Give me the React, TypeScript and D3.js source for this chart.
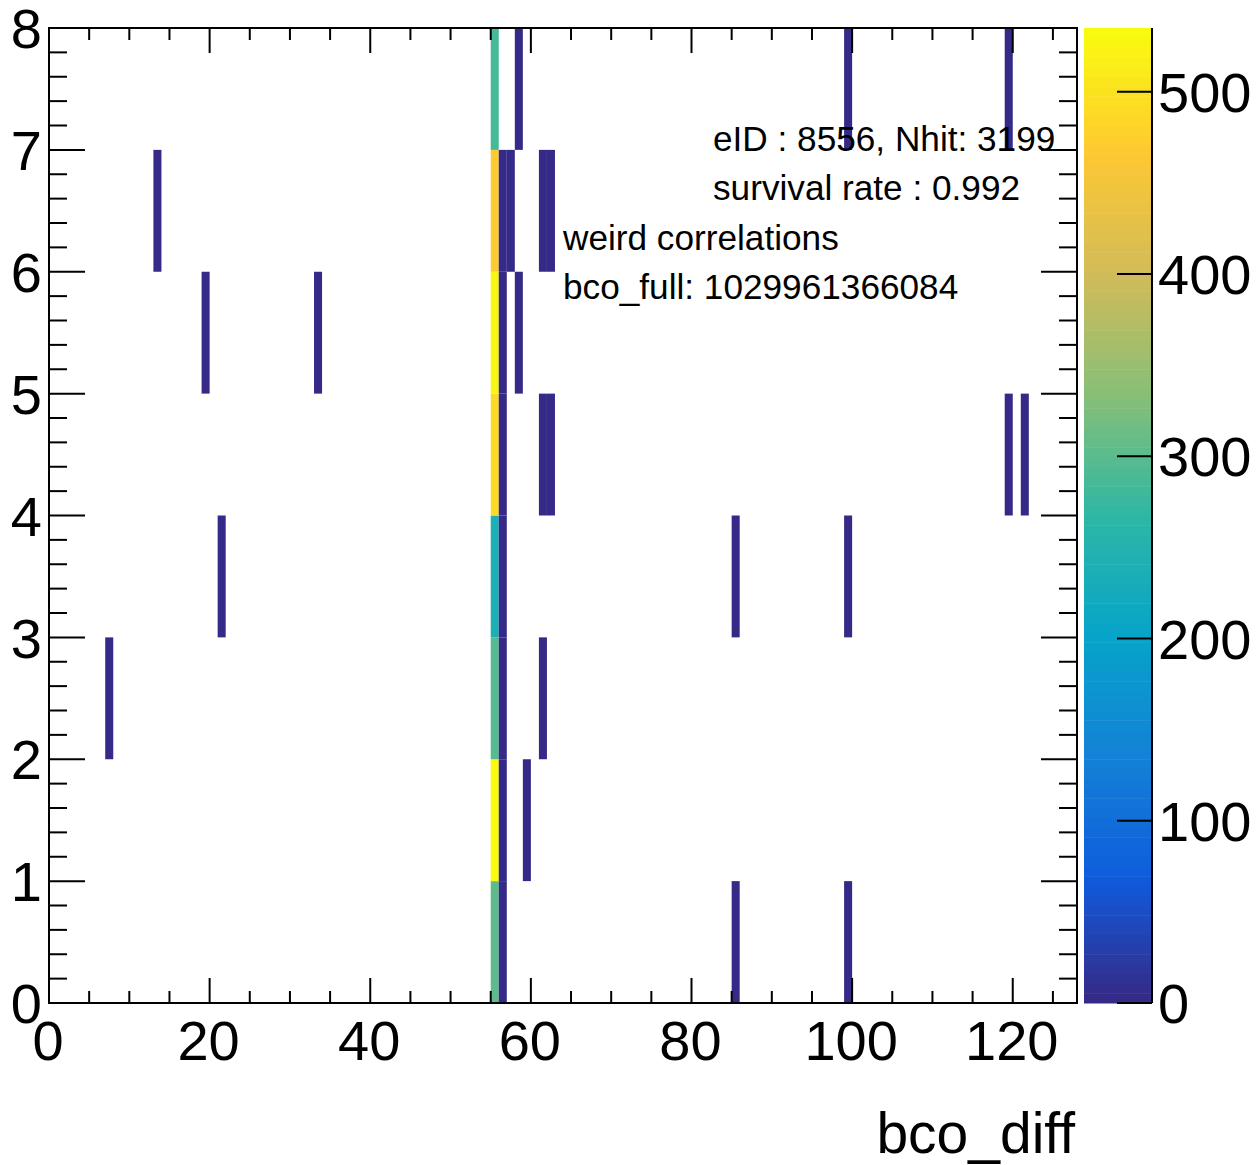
import React from "react";
import * as d3 from "d3";

// bin positions (lower edges) and contents of the TH2
const binX = [
  55, 55, 55, 55, 55, 55, 55, 55,
  56, 56, 56, 56, 56, 56, 56,
  57, 58, 58, 59, 61, 61, 61, 62, 62,
  7, 13, 19, 21, 33, 85, 85, 99, 99, 99, 119, 119, 121,
];
const binY = [
  0, 1, 2, 3, 4, 5, 6, 7,
  0, 1, 2, 3, 4, 5, 6,
  6, 5, 7, 1, 2, 4, 6, 4, 6,
  2, 6, 5, 3, 5, 0, 3, 0, 3, 7, 4, 7, 4,
];
const binCount = [
  300, 532, 295, 240, 487, 525, 468, 285,
  4, 3, 3, 3, 4, 3, 4,
  2, 2, 2, 2, 2, 2, 2, 2, 2,
  1, 1, 1, 1, 1, 1, 1, 1, 1, 1, 1, 1, 1,
];

const xTickLabels = [0, 20, 40, 60, 80, 100, 120];
const yTickLabels = [0, 1, 2, 3, 4, 5, 6, 7, 8];
const zTickLabels = [0, 100, 200, 300, 400, 500];

const textLines = [
  { text: "eID : 8556, Nhit: 3199", x: 713, y: 151 },
  { text: "survival rate : 0.992", x: 713, y: 200 },
  { text: "weird correlations", x: 563, y: 250 },
  { text: "bco_full: 1029961366084", x: 563, y: 299 },
];

// ROOT kBird palette
const birdStops = [0, 0.125, 0.25, 0.375, 0.5, 0.625, 0.75, 0.875, 1];
const birdR = [0.2082, 0.0592, 0.078, 0.0232, 0.1802, 0.5301, 0.8186, 0.9956, 0.9764];
const birdG = [0.1664, 0.3599, 0.5041, 0.6419, 0.7178, 0.7492, 0.7328, 0.7862, 0.9832];
const birdB = [0.5293, 0.8684, 0.8385, 0.7914, 0.6425, 0.4662, 0.3499, 0.1968, 0.0539];

const FONT = "'Liberation Sans', Arial, Helvetica, sans-serif";

export default function App() {
  const W = 1260;
  const H = 1165;
  const zMax = 535;
  const nCont = 100;

  const x = d3.scaleLinear().domain([0, 128]).range([49, 1077]);
  const y = d3.scaleLinear().domain([0, 8]).range([1003, 28]);
  const z = d3.scaleLinear().domain([0, zMax]).range([1003, 28]);

  const birdColors = birdStops.map((_, i) =>
    d3.rgb(birdR[i] * 255, birdG[i] * 255, birdB[i] * 255).toString()
  );
  const bird = d3
    .scaleLinear<string>()
    .domain(birdStops)
    .range(birdColors)
    .interpolate(d3.interpolateRgb);

  const levelColor = (lvl: number) => bird(lvl / (nCont - 1));
  const valueColor = (v: number) => {
    const lvl = Math.min(nCont - 1, Math.max(0, Math.floor((v / zMax) * nCont)));
    return levelColor(lvl);
  };

  const [x0, x1] = x.range();
  const [yb, yt] = y.range();

  const xMinor = d3.range(0, 129, 5);
  const yMinor = d3.range(0, 8.001, 0.2);
  const levels = d3.range(nCont);

  const cbLeft = 1084;
  const cbRight = 1152;

  return (
    <svg
      width={W}
      height={H}
      style={{ position: "absolute", left: 0, top: 0, background: "#fff" }}
      fontFamily={FONT}
    >
      <rect x={0} y={0} width={W} height={H} fill="#fff" />
      {/* bins */}
      {binX.map((bx, i) => (
        <rect
          key={"b" + i}
          x={x(bx)}
          y={y(binY[i] + 1)}
          width={x(bx + 1) - x(bx)}
          height={y(binY[i]) - y(binY[i] + 1)}
          fill={valueColor(binCount[i])}
        />
      ))}

      {/* frame */}
      <rect x={x0} y={yt} width={x1 - x0} height={yb - yt} fill="none" stroke="#000" strokeWidth={2} />

      {/* x ticks */}
      {xMinor.map((v) => {
        const major = v % 20 === 0;
        const len = major ? 25 : 12;
        return (
          <g key={"xt" + v} stroke="#000" strokeWidth={2}>
            <line x1={x(v)} x2={x(v)} y1={yb} y2={yb - len} />
            <line x1={x(v)} x2={x(v)} y1={yt} y2={yt + len} />
          </g>
        );
      })}
      {/* y ticks */}
      {yMinor.map((v, i) => {
        const major = i % 5 === 0;
        const len = major ? 36 : 18;
        return (
          <g key={"yt" + i} stroke="#000" strokeWidth={2}>
            <line x1={x0} x2={x0 + len} y1={y(v)} y2={y(v)} />
            <line x1={x1} x2={x1 - len} y1={y(v)} y2={y(v)} />
          </g>
        );
      })}

      {/* x labels */}
      {xTickLabels.map((v) => (
        <text key={"xl" + v} x={x(v) - 1} y={1060} fontSize={56} textAnchor="middle" fill="#000">
          {v}
        </text>
      ))}
      {/* y labels */}
      {yTickLabels.map((v) => (
        <text key={"yl" + v} x={42} y={y(v)} dy="0.36em" fontSize={56} textAnchor="end" fill="#000">
          {v}
        </text>
      ))}
      {/* x title */}
      <text x={1075} y={1153} fontSize={57} textAnchor="end" fill="#000">
        bco_diff
      </text>

      {/* colour bar */}
      {levels.map((l) => {
        const vLo = (l * zMax) / nCont;
        const vHi = ((l + 1) * zMax) / nCont;
        return (
          <rect
            key={"cb" + l}
            x={cbLeft}
            y={z(vHi)}
            width={cbRight - cbLeft}
            height={z(vLo) - z(vHi) + 0.5}
            fill={levelColor(l)}
          />
        );
      })}
      <line x1={cbRight} x2={cbRight} y1={z(zMax)} y2={z(0)} stroke="#000" strokeWidth={2} />
      {zTickLabels.map((v) => (
        <g key={"zt" + v}>
          <line x1={cbRight} x2={cbRight - 35} y1={z(v)} y2={z(v)} stroke="#000" strokeWidth={2} />
          <text x={1158} y={z(v)} dy="0.36em" fontSize={56} fill="#000">
            {v}
          </text>
        </g>
      ))}

      {/* annotation text */}
      {textLines.map((t, i) => (
        <text key={"tx" + i} x={t.x} y={t.y} fontSize={35.2} fill="#000">
          {t.text}
        </text>
      ))}
    </svg>
  );
}
